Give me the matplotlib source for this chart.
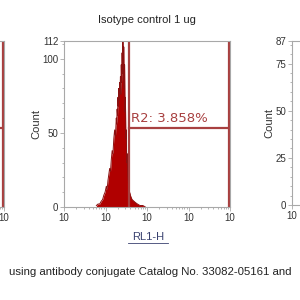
import numpy as np
import matplotlib.pyplot as plt
from matplotlib.lines import Line2D

plt.rcParams['font.family'] = ['Liberation Sans', 'DejaVu Sans']

# histogram (log10 of RL1-H, count)
log_x = [0.78, 0.82, 0.86, 0.90, 0.93, 0.96, 0.99, 1.02, 1.04, 1.06, 1.08, 1.10,
         1.12, 1.14, 1.16, 1.18, 1.20, 1.22, 1.24, 1.26, 1.27, 1.28, 1.29, 1.30,
         1.31, 1.32, 1.33, 1.34, 1.35, 1.36, 1.37, 1.38, 1.39, 1.40, 1.41, 1.42,
         1.43, 1.44, 1.45, 1.46, 1.47, 1.48, 1.49, 1.50, 1.51, 1.52, 1.54, 1.56,
         1.58, 1.61, 1.64, 1.68, 1.72, 1.77, 1.83, 1.90, 1.96]
counts = [1, 2, 2, 4, 5, 8, 10, 14, 12, 18, 22, 26,
          24, 32, 38, 36, 46, 52, 48, 60, 56, 66, 62, 74,
          68, 80, 72, 84, 78, 88, 76, 96, 84, 104, 90, 112,
          86, 108, 80, 96, 64, 74, 46, 52, 30, 36, 20, 14,
          10, 7, 5, 4, 3, 2, 1, 1, 0]

gate_lo = 37.0
gate_hi = 1e4
gate_y = 53.5
gate_label = "R2: 3.858%"

title = "Isotype control 1 ug"
caption = "using antibody conjugate Catalog No. 33082-05161 and"

hist_color = "#b00000"
gate_color = "#a84040"
spine_color = "#a8a8a8"
xtick_labels = ["10"] * 5


def style_axes(ax, ymax, yticks, show_x=None, show_y=True):
    ax.set_xscale('log')
    ax.set_xlim(1, 1e4)
    ax.set_ylim(0, ymax)
    ax.set_yticks(yticks)
    ax.set_yticks(np.arange(0, ymax, 5 if ymax < 100 else 10), minor=True)
    ax.set_xticks([1, 10, 100, 1000, 10000])
    labels = xtick_labels if show_x is None else \
        [t if i in show_x else "" for i, t in enumerate(xtick_labels)]
    ax.set_xticklabels(labels)
    if not show_y:
        ax.set_yticklabels([])
    for s in ax.spines.values():
        s.set_color(spine_color)
        s.set_linewidth(0.8)
    ax.tick_params(which='both', colors=spine_color, labelcolor='#333333',
                   labelsize=7, pad=1, length=3, width=0.6)
    ax.tick_params(which='minor', length=1.5)
    if show_y:
        ax.set_ylabel("Count", fontsize=8, color='#333333', labelpad=1)


fig = plt.figure(figsize=(3, 3), dpi=100)

# centre panel
ax = fig.add_axes([64 / 300, 93 / 300, 166 / 300, 166 / 300])
style_axes(ax, 112, [0, 50, 100, 112])
xs = 10 ** np.array(log_x)
ax.fill_between(xs, counts, color=hist_color, lw=0)
ax.plot(xs, counts, color='#8a1010', lw=0.7)
ax.axvline(gate_lo, color=gate_color, lw=1.6)
ax.axvline(gate_hi * 0.97, color=gate_color, lw=1.6)
ax.plot([gate_lo, gate_hi * 0.97], [gate_y, gate_y], color=gate_color, lw=1.6)
ax.text(gate_lo * 1.1, gate_y + 1.5, gate_label, fontsize=9.5, color=gate_color,
        family='DejaVu Sans', ha='left', va='bottom')
ax.set_title(title, fontsize=8, color='#222222', pad=13)

# left panel (cut off by the crop)
axl = fig.add_axes([-162 / 300, 93 / 300, 166 / 300, 166 / 300])
style_axes(axl, 112, [0, 50, 100, 112], show_x=[4], show_y=False)
axl.axvline(gate_hi * 0.97, color=gate_color, lw=1.6)
axl.plot([gate_lo, gate_hi * 0.97], [gate_y, gate_y], color=gate_color, lw=1.6)

# right panel (cut off by the crop)
axr = fig.add_axes([292 / 300, 95 / 300, 166 / 300, 164 / 300])
style_axes(axr, 87, [0, 25, 50, 75, 87], show_x=[0])

# x axis label, underlined
fig.text(148 / 300, 1 - 237 / 300, "RL1-H", fontsize=8, color='#3a4270',
         ha='center', va='center')
fig.add_artist(Line2D([128 / 300, 168 / 300], [1 - 243 / 300] * 2,
                      color='#3a4270', lw=0.6))

fig.text(150 / 300, 1 - 272 / 300, caption, fontsize=8.2, color='#222222',
         ha='center', va='center')

fig.savefig("out.png", dpi=100)
